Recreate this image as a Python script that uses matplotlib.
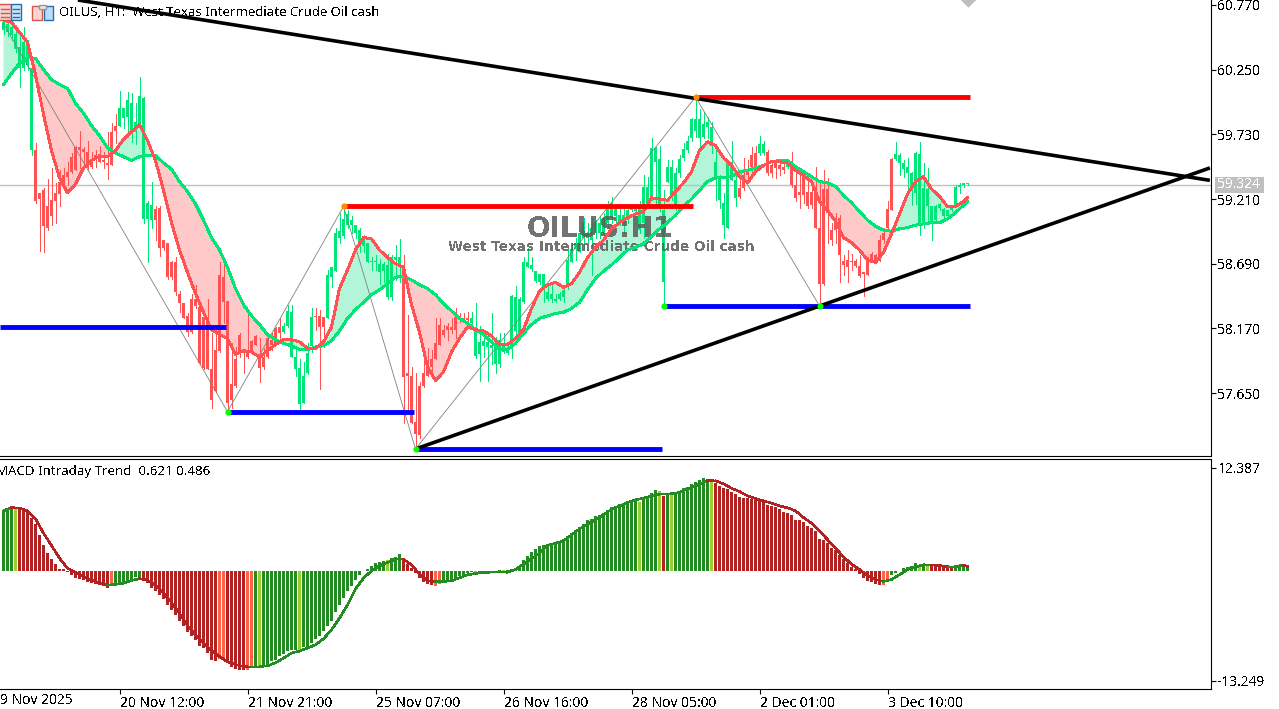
import numpy as np
import matplotlib
matplotlib.use("Agg")
import matplotlib.pyplot as plt
from matplotlib.patches import Rectangle

plt.rcParams['font.family'] = ['Noto Sans', 'DejaVu Sans']
plt.rcParams['text.antialiased'] = False

# candles, one value per H1 bar
body_top = [
    60.63,60.62,60.59,60.54,60.43,60.47,60.45,60.26,
    59.60,59.26,59.28,59.15,59.20,59.26,59.35,59.40,
    59.43,59.55,59.63,59.63,59.61,59.59,59.53,59.56,
    59.57,59.52,59.50,59.75,59.80,59.94,59.94,60.01,
    59.98,59.83,60.04,60.02,59.18,59.16,59.13,59.14,
    58.88,58.86,58.70,58.70,58.45,58.37,58.27,58.41,
    58.41,58.34,58.26,58.26,57.84,58.00,58.60,58.58,
    58.39,57.72,57.92,58.12,57.98,57.99,58.07,58.11,
    57.95,57.94,58.09,58.08,58.17,58.18,58.19,58.31,
    58.30,57.94,57.85,57.79,57.97,58.26,58.27,58.27,
    58.26,58.60,58.66,58.94,58.95,59.05,59.09,59.04,
    59.00,58.96,58.90,58.86,58.71,58.71,58.69,58.69,
    58.68,58.74,58.74,58.74,58.68,57.81,57.79,57.42,
    57.71,57.81,57.88,57.92,58.05,58.20,58.16,58.19,
    58.18,58.26,58.26,58.25,58.25,58.25,58.18,58.06,
    58.07,58.06,58.04,58.05,58.08,58.05,58.01,58.43,
    58.42,58.41,58.70,58.70,58.68,58.63,58.61,58.61,
    58.46,58.45,58.41,58.45,58.48,58.72,58.81,58.86,
    58.94,59.02,58.94,58.98,59.02,59.02,59.06,59.15,
    59.18,59.13,59.08,59.08,59.12,59.14,59.13,59.16,
    59.31,59.31,59.62,59.62,59.53,59.12,59.47,59.47,
    59.42,59.53,59.61,59.68,59.85,59.85,59.85,59.81,
    59.83,59.79,59.51,59.39,59.18,59.51,59.51,59.36,
    59.30,59.40,59.43,59.56,59.58,59.65,59.65,59.59,
    59.48,59.50,59.48,59.47,59.51,59.51,59.32,59.27,
    59.39,59.27,59.27,59.28,58.98,59.29,59.29,58.96,
    59.06,59.06,58.71,58.72,58.71,58.71,58.67,58.62,
    58.72,58.77,58.76,58.88,58.94,59.13,59.53,59.57,
    59.56,59.50,59.47,59.42,59.58,59.57,59.30,59.29,
    59.15,59.15,59.17,59.13,59.12,59.16,59.31,59.32,
    59.34,59.34]
body_bot = [
    60.57,60.55,60.53,60.42,60.26,60.26,60.29,59.60,
    59.19,59.21,58.99,58.98,59.07,59.19,59.25,59.34,
    59.39,59.43,59.44,59.60,59.59,59.46,59.47,59.53,
    59.51,59.51,59.48,59.48,59.76,59.80,59.86,59.87,
    59.75,59.75,59.78,59.05,59.05,59.04,59.04,58.82,
    58.82,58.58,58.58,58.46,58.37,58.25,58.14,58.14,
    58.35,57.89,57.85,57.84,57.59,57.67,57.99,58.38,
    57.57,57.59,57.71,57.96,57.97,57.94,57.99,58.04,
    57.85,57.86,57.94,58.04,58.05,58.13,58.14,58.19,
    57.94,57.84,57.56,57.57,57.81,58.03,58.26,58.18,
    58.18,58.25,58.58,58.63,58.90,58.91,59.00,59.00,
    58.94,58.86,58.83,58.70,58.70,58.70,58.62,58.63,
    58.42,58.42,58.72,58.69,57.78,57.79,57.41,57.32,
    57.31,57.71,57.79,57.86,57.92,58.04,58.12,58.16,
    58.16,58.16,58.25,58.24,58.24,58.21,57.95,57.96,
    58.03,58.02,58.01,57.88,57.88,57.98,57.97,58.01,
    58.15,58.13,58.38,58.66,58.65,58.55,58.54,58.48,
    58.41,58.41,58.39,58.41,58.42,58.50,58.70,58.81,
    58.78,58.90,58.90,58.88,58.94,58.94,58.94,59.02,
    59.06,59.07,59.02,59.02,59.06,59.12,59.11,58.96,
    59.02,59.16,59.22,59.51,59.14,58.54,59.35,59.23,
    59.15,59.42,59.54,59.60,59.70,59.76,59.70,59.71,
    59.79,59.64,59.38,59.20,59.00,58.98,59.36,59.22,
    59.23,59.30,59.40,59.47,59.47,59.58,59.58,59.42,
    59.42,59.46,59.45,59.44,59.47,59.32,59.22,59.24,
    59.24,59.15,59.16,58.98,58.53,58.53,59.10,58.88,
    58.96,58.76,58.68,58.66,58.70,58.67,58.59,58.61,
    58.60,58.71,58.71,58.71,58.88,58.98,59.12,59.53,
    59.50,59.45,59.42,59.32,59.26,59.00,59.00,59.15,
    59.02,59.04,59.14,59.07,59.07,59.12,59.16,59.31,
    59.32,59.33]
highs = [
    60.65,60.67,60.65,60.61,60.54,60.59,60.49,60.28,
    59.66,59.26,59.30,59.37,59.46,59.34,59.44,59.46,
    59.51,59.58,59.64,59.76,59.63,59.68,59.59,59.60,
    59.64,59.59,59.75,59.82,59.89,60.08,59.94,60.07,
    60.06,59.98,60.19,60.03,59.19,59.35,59.15,59.15,
    58.88,58.86,58.71,58.74,58.47,58.37,58.29,58.45,
    58.52,58.37,58.30,58.41,58.13,58.17,58.70,58.70,
    58.39,58.05,58.02,58.13,57.98,58.29,58.08,58.12,
    58.09,58.01,58.12,58.13,58.18,58.25,58.21,58.36,
    58.36,58.00,57.92,57.90,58.05,58.33,58.33,58.32,
    58.26,58.64,58.66,58.98,59.10,59.14,59.12,59.07,
    59.00,58.98,58.92,58.86,58.74,58.76,58.73,58.70,
    58.77,58.76,58.84,58.89,58.76,58.28,57.86,57.81,
    57.74,57.94,58.01,58.00,58.25,58.25,58.20,58.21,
    58.25,58.33,58.29,58.29,58.30,58.30,58.37,58.19,
    58.14,58.14,58.29,58.10,58.13,58.13,58.06,58.44,
    58.51,58.42,58.74,58.82,58.74,58.63,58.61,58.61,
    58.53,58.53,58.45,58.46,58.52,58.80,58.86,58.90,
    58.96,59.06,59.02,59.06,59.04,59.07,59.10,59.19,
    59.23,59.16,59.14,59.14,59.16,59.16,59.15,59.19,
    59.40,59.39,59.70,59.63,59.64,59.28,59.52,59.52,
    59.46,59.56,59.66,59.72,59.86,60.01,59.93,59.91,
    59.87,59.83,59.62,59.40,59.26,59.51,59.68,59.42,
    59.38,59.54,59.52,59.63,59.64,59.72,59.68,59.60,
    59.50,59.51,59.52,59.50,59.52,59.59,59.47,59.42,
    59.44,59.38,59.36,59.47,59.34,59.44,59.38,59.02,
    59.10,59.08,58.76,58.80,58.77,58.73,58.76,58.62,
    58.74,58.78,58.77,58.92,58.98,59.19,59.54,59.67,
    59.58,59.52,59.54,59.43,59.59,59.67,59.50,59.46,
    59.15,59.16,59.18,59.14,59.12,59.16,59.32,59.34,
    59.34,59.34]
lows = [
    60.54,60.52,60.49,60.39,60.11,60.25,60.25,59.56,
    59.18,58.79,58.78,58.96,59.00,59.02,59.15,59.34,
    59.32,59.42,59.44,59.46,59.48,59.45,59.46,59.47,
    59.51,59.46,59.37,59.48,59.66,59.80,59.78,59.71,
    59.67,59.65,59.78,59.02,58.70,58.98,58.88,58.75,
    58.80,58.57,58.57,58.44,58.30,58.25,58.11,58.13,
    58.33,57.88,57.84,57.84,57.53,57.66,57.98,58.21,
    57.50,57.53,57.70,57.94,57.81,57.93,57.98,58.04,
    57.74,57.84,57.93,58.00,58.04,58.08,58.13,58.18,
    57.94,57.79,57.51,57.57,57.80,57.98,58.16,57.68,
    58.02,58.25,58.50,58.63,58.86,58.90,58.98,58.94,
    58.90,58.78,58.78,58.70,58.64,58.64,58.53,58.54,
    58.41,58.40,58.56,58.54,57.41,57.49,57.41,57.21,
    57.29,57.70,57.79,57.78,57.92,58.04,58.10,58.08,
    58.13,58.09,58.22,58.22,58.20,58.20,57.93,57.75,
    57.94,57.75,57.88,57.81,57.86,57.97,57.96,57.93,
    58.06,58.13,58.37,58.66,58.63,58.54,58.53,58.38,
    58.40,58.38,58.38,58.40,58.38,58.49,58.70,58.72,
    58.78,58.82,58.86,58.60,58.90,58.90,58.90,58.98,
    59.02,59.02,59.00,58.94,59.02,59.11,59.10,58.94,
    58.90,59.14,59.20,59.16,59.11,58.36,59.35,59.20,
    59.12,59.39,59.52,59.59,59.68,59.71,59.62,59.70,
    59.70,59.58,59.20,59.14,58.90,58.98,59.36,59.15,
    59.22,59.28,59.36,59.39,59.46,59.56,59.56,59.40,
    59.39,59.38,59.40,59.42,59.46,59.31,59.19,59.14,
    59.18,59.14,59.14,58.98,58.37,58.52,58.86,58.84,
    58.86,58.54,58.60,58.54,58.64,58.66,58.58,58.43,
    58.60,58.70,58.71,58.71,58.86,58.96,59.12,59.52,
    59.40,59.39,59.24,59.16,59.17,58.92,58.98,59.02,
    58.88,59.04,59.12,59.05,59.07,59.11,59.16,59.26,
    59.31,59.32]
# bars that were drawn green, the rest are red
green_runs = [(0, 7), (29, 37), (70, 77), (81, 99), (117, 183), (189, 190), (196, 196), (223, 241)]

# moving averages, read every second bar
fast_ma = [
    60.65,60.63,60.55,60.47,60.21,59.89,59.60,59.38,59.26,59.33,
    59.46,59.52,59.55,59.55,59.60,59.69,59.75,59.81,59.68,59.52,
    59.28,59.02,58.80,58.62,58.45,58.30,58.16,58.12,58.09,57.96,
    57.99,57.98,57.94,57.99,58.04,58.08,58.08,58.06,58.01,58.01,
    58.06,58.18,58.49,58.64,58.80,58.90,58.89,58.80,58.74,58.69,
    58.66,58.36,58.14,57.86,57.75,57.82,57.98,58.09,58.18,58.16,
    58.15,58.11,58.04,58.04,58.09,58.16,58.33,58.47,58.52,58.54,
    58.50,58.53,58.62,58.74,58.82,58.88,58.97,59.02,59.06,59.09,
    59.11,59.22,59.21,59.20,59.27,59.34,59.43,59.60,59.67,59.64,
    59.54,59.48,59.39,59.34,59.43,59.48,59.51,59.51,59.50,59.44,
    59.40,59.35,59.19,59.12,59.03,58.90,58.86,58.80,58.72,58.70,
    58.78,58.93,59.09,59.25,59.35,59.39,59.29,59.23,59.15,59.15,
    59.19,59.22]
slow_ma = [
    60.13,60.22,60.30,60.35,60.34,60.25,60.17,60.13,60.10,59.98,
    59.90,59.80,59.72,59.62,59.58,59.55,59.52,59.55,59.56,59.56,
    59.50,59.45,59.35,59.27,59.17,59.04,58.90,58.80,58.66,58.49,
    58.36,58.27,58.20,58.12,58.08,58.05,58.03,58.00,58.00,58.02,
    58.03,58.07,58.15,58.25,58.32,58.38,58.44,58.48,58.53,58.58,
    58.59,58.56,58.52,58.49,58.44,58.37,58.31,58.25,58.21,58.16,
    58.12,58.06,58.00,58.00,58.05,58.13,58.20,58.25,58.27,58.29,
    58.30,58.33,58.38,58.48,58.57,58.63,58.68,58.74,58.80,58.82,
    58.85,58.91,58.97,59.02,59.08,59.15,59.21,59.28,59.35,59.38,
    59.38,59.39,59.43,59.44,59.46,59.48,59.51,59.52,59.52,59.47,
    59.43,59.39,59.35,59.34,59.31,59.24,59.18,59.11,59.04,58.99,
    58.96,58.95,58.97,58.98,59.00,59.01,59.02,59.02,59.05,59.10,
    59.16,59.19]

# MACD histogram, one value per bar
macd_hist = [
    7.18,7.42,7.62,7.50,7.50,7.50,7.10,6.30,5.61,4.29,3.09,2.09,1.40,0.76,0.20,0.16,
    -0.20,-0.60,-0.92,-1.00,-1.12,-1.44,-1.52,-1.64,-1.80,-1.92,-2.05,-1.92,-1.64,-1.52,-1.40,-1.24,
    -1.00,-0.80,-1.00,-1.24,-1.52,-2.05,-2.45,-2.93,-3.45,-4.13,-4.73,-5.33,-6.02,-6.74,-7.42,-7.86,
    -8.34,-9.06,-9.34,-9.94,-10.75,-10.95,-10.63,-10.75,-11.15,-11.67,-11.83,-11.95,-11.95,-11.95,-11.67,-11.59,
    -11.55,-11.55,-11.43,-10.95,-10.75,-10.35,-10.07,-9.74,-9.54,-9.54,-9.54,-9.26,-9.26,-8.74,-8.26,-7.86,
    -7.34,-6.62,-6.02,-5.01,-4.13,-3.33,-2.45,-1.84,-1.12,-0.60,-0.12,0.20,0.60,0.88,1.00,1.16,
    1.24,1.48,1.68,1.96,1.56,0.80,0.28,-0.32,-0.92,-1.44,-1.64,-1.80,-1.84,-1.64,-1.40,-1.32,
    -1.20,-1.04,-0.72,-0.52,-0.32,-0.20,-0.24,-0.24,-0.12,-0.12,-0.20,-0.08,0.04,0.08,0.02,0.20,
    0.36,0.60,1.28,1.76,2.21,2.61,2.97,3.09,3.17,3.29,3.41,3.57,3.77,4.17,4.49,4.89,
    5.29,5.61,6.02,6.22,6.50,6.70,6.90,7.30,7.62,7.82,7.98,8.10,8.30,8.50,8.62,8.30,
    8.70,8.90,9.30,9.70,9.58,9.02,9.18,9.18,9.30,9.42,9.90,10.11,10.39,10.63,10.91,11.11,
    11.03,10.91,10.51,10.23,9.90,9.78,9.50,9.18,8.90,8.70,8.70,8.58,8.50,8.38,8.22,7.90,
    7.82,7.62,7.38,7.10,6.90,6.70,6.10,6.02,5.89,5.41,5.09,4.77,3.77,3.69,3.29,2.69,
    2.49,1.88,1.40,0.88,0.48,0.16,-0.44,-0.92,-1.24,-1.44,-1.60,-1.72,-1.72,-1.32,-0.52,-0.32,
    -0.12,0.28,0.48,0.60,0.88,0.48,0.76,0.60,0.68,0.68,0.60,0.60,0.48,0.40,0.48,0.56,
    0.68,0.621]
# colour groups of the histogram, (first, last) bar
hist_red = [(4, 26), (35, 53), (56, 60), (100, 107), (122, 122), (165, 165), (178, 219), (232, 237)]
hist_orange = [(27, 27), (54, 55), (61, 62), (108, 109), (220, 221)]
hist_lime = [(3, 3), (64, 64), (74, 74), (96, 96), (118, 118), (125, 125), (159, 159), (164, 164),
             (167, 167), (177, 177), (229, 229), (231, 231)]
macd_signal = [
    7.18,7.58,7.50,7.18,6.22,4.49,3.01,1.48,0.28,-0.24,-0.72,-1.16,-1.52,-1.76,-1.68,-1.52,-1.20,-1.00,
    -1.16,-1.80,-2.73,-3.85,-5.21,-6.62,-7.74,-8.74,-9.62,-10.35,-10.99,-11.31,-11.55,-11.63,-11.59,-11.47,
    -11.11,-10.55,-9.94,-9.70,-9.34,-8.94,-8.22,-7.14,-5.73,-4.13,-2.21,-0.92,-0.04,0.56,0.96,1.36,
    1.36,0.68,-0.44,-1.24,-1.36,-1.32,-1.24,-0.88,-0.52,-0.36,-0.24,-0.20,-0.20,-0.20,0.12,0.76,1.40,2.09,
    3.01,3.29,3.57,4.29,5.01,5.57,6.10,6.70,7.38,7.74,8.18,8.50,8.70,8.98,9.18,9.22,
    9.26,9.62,9.98,10.39,10.83,10.79,10.43,9.90,9.50,8.98,8.66,8.38,8.10,7.78,7.54,7.18,
    6.38,5.69,4.73,3.73,2.69,1.64,0.76,0.12,-0.60,-1.08,-1.32,-1.08,-0.52,0.12,0.44,0.68,
    0.68,0.60,0.48,0.48,0.64,0.486]

# support / resistance segments: first bar, last bar, price
red_levels = [(85, 172.4, 59.15), (173, 241.5, 60.03)]
blue_levels = [(-1, 55.5, 58.18), (56, 102.5, 57.50), (103, 164.5, 57.20), (165, 203.5, 58.35), (204, 241.5, 58.35)]
# trend lines: bar, price, bar, price
trend_lines = [(18.6, 60.81, 301.6, 59.36), (103, 57.20, 301.6, 59.46)]
# zigzag pivots
zigzag_bars = [0, 56, 85, 103, 173, 204]
zigzag_prices = [60.62, 57.50, 59.15, 57.20, 60.03, 58.35]
low_pivots = [56, 103, 165, 204]
high_pivots = [85, 173]
low_pivot_prices = [57.50, 57.20, 58.35, 58.35]
high_pivot_prices = [59.15, 60.03]

last_price = 59.324
price_ticks = [60.770, 60.250, 59.730, 59.210, 58.690, 58.170, 57.650]
macd_ticks = [12.387, -13.249]
time_ticks = [29, 61, 93, 125, 157, 189, 221]
time_labels = ['20 Nov 12:00', '21 Nov 21:00', '25 Nov 07:00',
               '26 Nov 16:00', '28 Nov 05:00', '2 Dec 01:00', '3 Dec 10:00']
first_time_label = '19 Nov 2025'

W, H = 1279, 709
GREEN = '#00E676'
RED = '#FF5252'
XLIM = (-0.875, 301.75)


def px_box(left, top, right, bottom):
    return [left / W, 1 - bottom / H, (right - left) / W, (bottom - top) / H]


def in_runs(i, runs):
    return any(a <= i <= b for a, b in runs)


fig = plt.figure(figsize=(W / 100, H / 100), dpi=100, facecolor='white')
ax = fig.add_axes(px_box(0, 0, 1210.5, 455.5))
ax2 = fig.add_axes(px_box(0, 458.5, 1210.5, 689))

bars = np.arange(len(highs))
ma_bars = np.array(list(range(0, 241, 2)) + [241])
fast = np.array(fast_ma)
slow = np.array(slow_ma)

ax.fill_between(ma_bars, fast, slow, where=fast >= slow, interpolate=True, color='#B2F5D8', lw=0, zorder=2)
ax.fill_between(ma_bars, fast, slow, where=fast <= slow, interpolate=True, color='#FFC9C9', lw=0, zorder=2)

colors = [GREEN if in_runs(i, green_runs) else RED for i in bars]
ax.vlines(bars, lows, highs, colors=colors, lw=0.72, antialiased=False, zorder=3)
ax.bar(bars, np.array(body_top) - np.array(body_bot), bottom=body_bot, width=0.75, color=colors,
       lw=0, antialiased=False, zorder=3)

ax.axhline(last_price, color='#C0C0C0', lw=1, zorder=2.5)
ax.plot(zigzag_bars, zigzag_prices, color='#808080', lw=0.6, zorder=4)

# the watermark blends over the candles
ax.text(600 / 1210.5, 1 - 229 / 455.5, 'OILUS:H1', transform=ax.transAxes, ha='center', va='center',
        fontsize=20, fontweight='bold', color='#5A5A5A', alpha=0.85, family='DejaVu Sans', zorder=4.2)
ax.text(601.5 / 1210.5, 1 - 247 / 455.5, 'West Texas Intermediate Crude Oil cash', transform=ax.transAxes,
        ha='center', va='center', fontsize=9.8, fontweight='bold', color='#5A5A5A', alpha=0.85,
        family='DejaVu Sans', zorder=4.2)

ax.plot(ma_bars, slow, color=GREEN, lw=1.4, zorder=5, antialiased=False)
ax.plot(ma_bars, fast, color=RED, lw=1.4, zorder=5.5, antialiased=False)

for x0, x1, p in blue_levels:
    ax.plot([x0, x1], [p, p], color='#0000FF', lw=3.5, solid_capstyle='butt', zorder=6)
for x0, x1, p in red_levels:
    ax.plot([x0, x1], [p, p], color='#FF0000', lw=3.5, solid_capstyle='butt', zorder=6)
for x0, p0, x1, p1 in trend_lines:
    ax.plot([x0, x1], [p0, p1], color='black', lw=2.6, solid_capstyle='butt', zorder=7)

ax.scatter(low_pivots, low_pivot_prices, s=20, marker='o', color='#00FF00', lw=0, zorder=8)
ax.scatter(high_pivots, high_pivot_prices, s=20, marker='o', color='#FF8C00', lw=0, zorder=8)
ax.scatter([241], [60.82], s=70, marker='D', color='#BDBDBD', lw=0, zorder=8)

ax.set_xticks([])
ax.set_xlim(XLIM)
ax.set_ylim(60.81 - 0.00804 * 455.5, 60.81)
ax.yaxis.tick_right()
ax.set_yticks(price_ticks)
ax.set_yticklabels(['%.3f' % t for t in price_ticks])
ax.tick_params(axis='y', length=3.6, width=0.8, pad=1.5, labelsize=9.9)
for s in ['top', 'left']:
    ax.spines[s].set_visible(False)

# MACD panel
hist_colors = []
for i in bars:
    if in_runs(i, hist_red):
        hist_colors.append('#B22222')
    elif in_runs(i, hist_orange):
        hist_colors.append('#FF6347')
    elif in_runs(i, hist_lime):
        hist_colors.append('#9ACD32')
    else:
        hist_colors.append('#228B22')
ax2.bar(bars, macd_hist, width=0.75, color=hist_colors, lw=0, antialiased=False, zorder=2)

sig = np.array(macd_signal)
for j in range(len(sig) - 1):
    c = '#B22222' if sig[j + 1] < sig[j] else '#228B22'
    ax2.plot(ma_bars[j:j + 2], sig[j:j + 2], color=c, lw=1.1, antialiased=False, zorder=3)

ax2.yaxis.tick_right()
ax2.set_yticks(macd_ticks)
ax2.set_yticklabels(['%.3f' % t for t in macd_ticks])
ax2.tick_params(axis='y', length=3.6, width=0.8, pad=1.5, labelsize=9.9)
ax2.set_xticks(time_ticks)
ax2.set_xticklabels(time_labels, ha='left')
ax2.tick_params(axis='x', length=3.6, width=0.8, pad=1.2, labelsize=10)
ax2.set_xlim(XLIM)
ax2.set_ylim(-118.5 * 0.12036, 112 * 0.12036)
ax2.spines['left'].set_visible(False)

# first time label starts left of the picture, as in the terminal
fig.text(-8 / W, 1 - 701 / H, first_time_label, ha='left', va='center', fontsize=10, color='black')
fig.text(59 / W, 1 - 12.5 / H, 'OILUS, H1:  West Texas Intermediate Crude Oil cash', ha='left', va='center',
         fontsize=9.5, color='black')
fig.text(-4 / W, 1 - 472 / H, 'MACD Intraday Trend  0.621 0.486', ha='left', va='center',
         fontsize=9.6, color='black')

# toolbar icons and the last price tag, in picture pixels
over = fig.add_axes([0, 0, 1, 1], facecolor='none')
over.set_xlim(0, W)
over.set_ylim(H, 0)
over.axis('off')
over.add_patch(Rectangle((-3, 4), 14, 16, fc='#F9D5CF', ec='#D9534F', lw=1))
over.add_patch(Rectangle((11, 4), 10, 16, fc='#CFE6F8', ec='#1F6FB5', lw=1))
for y in [9, 13, 17]:
    over.plot([1, 9], [y, y], color='#D9534F', lw=1)
    over.plot([13, 19], [y, y], color='#1F6FB5', lw=1)
over.add_patch(Rectangle((32, 6), 10, 14, fc='#F9D5CF', ec='#D9534F', lw=1))
over.add_patch(Rectangle((44, 6), 9, 14, fc='#BBDDF7', ec='#1F6FB5', lw=1))
over.add_patch(Rectangle((39, 5), 7, 4, fc='#E8E8E8', ec='#999999', lw=1))
over.add_patch(Rectangle((1215, 176.5), 49, 16, fc='#C0C0C0', ec='none'))
over.text(1217, 184.5, '%.3f' % last_price, ha='left', va='center', fontsize=9.9, color='white')

fig.savefig('out.png', dpi=100, facecolor='white')
